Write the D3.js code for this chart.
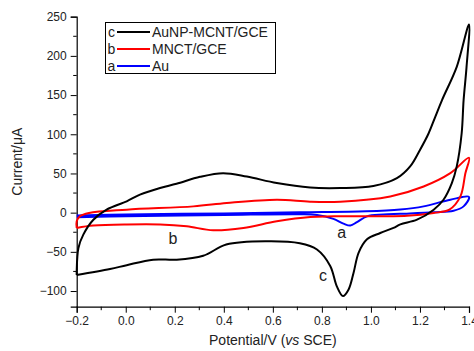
<!DOCTYPE html>
<html><head><meta charset="utf-8">
<script src="https://cdn.jsdelivr.net/npm/d3@7"></script>
<style>body{margin:0;background:#fff}svg{display:block}</style>
</head><body>
<script>
// ---- data ----
const xTicks = [-0.2, 0.0, 0.2, 0.4, 0.6, 0.8, 1.0, 1.2, 1.4];
const yTicks = [-100, -50, 0, 50, 100, 150, 200, 250];
const seriesNames = ["AuNP-MCNT/GCE", "MNCT/GCE", "Au"];
const seriesLetters = ["c", "b", "a"];
const seriesColors = ["#000000", "#ff0000", "#0000ff"];

const cPotential = [-0.2,-0.2,-0.193,-0.173,-0.132,-0.078,0.004,0.058,0.14,0.207,0.303,0.397,0.494,0.616,0.752,0.875,1.01,1.106,1.16,1.20,1.235,1.262,1.29,1.35,1.40,1.39,1.378,1.37,1.35,1.33,1.296,1.256,1.188,1.12,1.092,1.038,0.984,0.95,0.929,0.909,0.886,0.861,0.834,0.78,0.71,0.575,0.41,0.316,0.208,0.112,0.004,-0.064,-0.2];
const cCurrent   = [-79.6,-74.6,-45,-28,-9,3.8,14.4,23,31.5,36.8,45.7,50.4,46,37.7,32,31.4,34,44,59,80,101,122,143.6,186,240,186,143.6,101,59,37.7,16.5,3.8,-9,-15,-19.5,-26,-34,-51,-77,-98,-106.5,-94,-68,-47,-39,-36.5,-40.7,-55,-60,-60,-67,-72,-79.6];

const bPotential = [-0.2,-0.2,-0.187,-0.15,0.004,0.276,0.412,0.616,0.752,0.875,1.079,1.215,1.324,1.40,1.385,1.365,1.32,1.256,1.147,0.85,0.752,0.616,0.48,0.357,0.249,0.14,0.004,-0.132,-0.2];
const bCurrent   = [-19.5,-11,-4.7,-0.4,3.8,8,12.3,16.5,14,14,20.7,33.4,50.4,70,50,20.7,3.8,-0.4,-4,-4.7,-5.5,-11,-19.5,-22.5,-17.4,-15,-15,-16.5,-19.5];

const aPotential = [-0.2,0.0,0.4,0.71,0.98,1.12,1.215,1.324,1.40,1.378,1.337,1.256,1.12,1.05,0.984,0.943,0.916,0.888,0.847,0.78,0.71,0.4,0.0,-0.2];
const aCurrent   = [-3.5,-2.3,-1,0.4,1.7,4,8,16.5,20,8,2.5,0.5,-1.5,-2.5,-4.7,-12,-16.5,-14,-8,-3,-2,-3,-4.5,-6];

const W = 474, H = 351;
const font = "'Liberation Sans', Arial, sans-serif";
const svg = d3.select("body").append("svg").attr("width", W).attr("height", H);

const x = d3.scaleLinear().domain([-0.2, 1.4]).range([76.7, 469]);
const y = d3.scaleLinear().domain([-120, 250]).range([306.7, 16.7]);

// axes
const xAxis = d3.axisBottom(x).tickValues(xTicks).tickFormat(d3.format(".1f")).tickSize(6).tickPadding(4);
const yAxis = d3.axisLeft(y).tickValues(yTicks).tickFormat(d3.format("d")).tickSize(6).tickPadding(4);

const minorX = d3.range(-0.1, 1.4, 0.2);
const minorY = d3.range(-75, 250, 50);

const gx = svg.append("g").attr("transform", `translate(0,${y(-120)})`).call(xAxis);
const gy = svg.append("g").attr("transform", `translate(${x(-0.2)},0)`).call(yAxis);
[gx, gy].forEach(g => {
  g.select(".domain").attr("stroke", "#000").attr("stroke-width", 1.2);
  g.selectAll(".tick line").attr("stroke", "#000").attr("stroke-width", 1);
  g.selectAll(".tick text").attr("font-family", font).attr("font-size", 12).attr("fill", "#222");
});
gx.selectAll(".minor").data(minorX).enter().append("line")
  .attr("x1", d => x(d)).attr("x2", d => x(d)).attr("y1", 0).attr("y2", 3.5).attr("stroke", "#000");
gy.selectAll(".minor").data(minorY).enter().append("line")
  .attr("y1", d => y(d)).attr("y2", d => y(d)).attr("x1", 0).attr("x2", -3.5).attr("stroke", "#000");

// axis labels
const xl = svg.append("text").attr("x", (x(-0.2) + x(1.4)) / 2).attr("y", 345)
  .attr("text-anchor", "middle").attr("font-family", font).attr("font-size", 14).attr("fill", "#222");
xl.append("tspan").text("Potential/V (");
xl.append("tspan").attr("font-style", "italic").text("vs");
xl.append("tspan").text(" SCE)");

svg.append("text").attr("transform", `translate(22,${(y(250) + y(-120)) / 2}) rotate(-90)`)
  .attr("text-anchor", "middle").attr("font-family", font).attr("font-size", 14).attr("fill", "#222")
  .text("Current/μA");

// curves
const line = d3.line().x(d => x(d[0])).y(d => y(d[1])).curve(d3.curveCatmullRom.alpha(0.5));
const series = [
  [aPotential, aCurrent, seriesColors[2]],
  [bPotential, bCurrent, seriesColors[1]],
  [cPotential, cCurrent, seriesColors[0]]
];
series.forEach(([px, py, col]) => {
  svg.append("path").datum(px.map((v, i) => [v, py[i]]))
    .attr("d", line).attr("fill", "none").attr("stroke", col).attr("stroke-width", 2)
    .attr("stroke-linejoin", "round");
});

// annotations
const ann = [["c", 0.805, -87], ["a", 0.881, -32], ["b", 0.193, -40]];
ann.forEach(([t, px, py]) => {
  svg.append("text").attr("x", x(px)).attr("y", y(py)).attr("text-anchor", "middle")
    .attr("font-family", font).attr("font-size", 16).attr("fill", "#222").text(t);
});

// legend
const lg = svg.append("g");
lg.append("rect").attr("x", 105.5).attr("y", 22.5).attr("width", 170).attr("height", 51)
  .attr("fill", "#fff").attr("stroke", "#000").attr("stroke-width", 1);
seriesNames.forEach((n, i) => {
  const cy = 32 + i * 17;
  lg.append("text").attr("x", 111.5).attr("y", cy + 5).attr("text-anchor", "middle")
    .attr("font-family", font).attr("font-size", 14).attr("fill", "#222").text(seriesLetters[i]);
  lg.append("line").attr("x1", 117).attr("x2", 150).attr("y1", cy).attr("y2", cy)
    .attr("stroke", seriesColors[i]).attr("stroke-width", 2);
  lg.append("text").attr("x", 152).attr("y", cy + 5)
    .attr("font-family", font).attr("font-size", 14).attr("fill", "#222").text(n);
});
</script>
</body></html>
